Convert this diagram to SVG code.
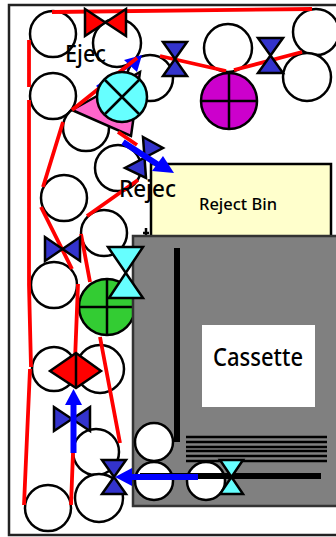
<svg xmlns="http://www.w3.org/2000/svg" width="336" height="537" viewBox="0 0 336 537">
<style>
.r{fill:#fff;stroke:#000;stroke-width:2.500}
.w{fill:none;stroke:#f00;stroke-width:3.800}
.b{fill:#33c;stroke:#000;stroke-width:2.500}
.c{fill:#6ff;stroke:#000;stroke-width:2.500}
.f{fill:#f00;stroke:#000;stroke-width:2.500}
.l{stroke:#000;stroke-width:2.500;fill:none}
.a{stroke:#00f;fill:none}
.h{fill:#00f}
.t{font-family:"Noto Sans",sans-serif;font-weight:500;fill:#000}
</style>
<rect width="336" height="537" fill="#fff"/>
<g id="frame"><rect x="9" y="5" width="340" height="530" fill="#fff" stroke="#222" stroke-width="2.500"/></g>
<g id="rollers">
<circle class="r" cx="53" cy="34" r="23"/><circle class="r" cx="117" cy="43" r="24"/><circle class="r" cx="53" cy="96" r="23"/>
<circle class="r" cx="150" cy="78" r="23"/><circle class="r" cx="86" cy="128" r="23"/><circle class="r" cx="118" cy="168" r="23"/>
<circle class="r" cx="228" cy="48" r="24"/><circle class="r" cx="316" cy="32" r="23"/><circle class="r" cx="307" cy="77" r="24"/>
<circle class="r" cx="64" cy="198" r="23"/><circle class="r" cx="104" cy="233" r="23"/><circle class="r" cx="54" cy="285" r="23"/>
<circle class="r" cx="54" cy="369" r="22"/><circle class="r" cx="100" cy="369" r="24"/>
<circle class="r" cx="96" cy="452" r="23"/><circle class="r" cx="99" cy="498" r="24"/><circle class="r" cx="48" cy="508" r="23"/>
</g>
<g id="green-roller"><circle cx="107" cy="307" r="28" fill="#3c3" stroke="#000" stroke-width="2.500"/><path class="l" d="M107 279V335M79 307H135"/></g>
<g id="reject-bin"><rect x="151" y="164" width="180" height="74" fill="#ffc" stroke="#000" stroke-width="2.500"/><text class="t" x="199" y="210" font-size="17" textLength="78" lengthAdjust="spacingAndGlyphs">Reject Bin</text></g>
<g id="cassette"><path class="l" d="M146 228V239M143 233H149"/><rect x="133" y="236" width="220" height="270" fill="#808080" stroke="#333" stroke-width="2.500"/>
<rect x="202" y="325" width="113" height="82" fill="#fff"/><text class="t" x="213" y="366" font-size="25" textLength="90" lengthAdjust="spacingAndGlyphs">Cassette</text>
<line x1="177" y1="248" x2="177" y2="442" stroke="#000" stroke-width="6"/>
<path class="l" stroke-width="2" d="M186 437H327M186 442H327M186 447H327M186 451H327M186 456H327M186 461H327"/>
<circle class="r" cx="154" cy="442" r="19"/><circle class="r" cx="154" cy="481" r="19"/><circle class="r" cx="206" cy="481" r="19"/>
<line x1="140" y1="476" x2="321" y2="476" stroke="#000" stroke-width="6"/>
</g>
<g id="triangle"><path d="M72 110L131 136L140 72Z" fill="#f6c" stroke="#000" stroke-width="2.500"/></g>
<g id="connectors">
<path class="w" d="M52 12L312 9M29 40V87M29 100V285L31 367M30 369L24 505M63 122L43 187M41 207L72 269M78 284L75 360M73 453L71 505M81 234L90 282M100 337L120 443M87 216L138 180M118 132L137 145M160 56L226 71M234 70L302 52"/>
<path class="a" stroke-width="3" d="M97 87L132 64"/><path class="h" d="M142 55L124 60L137 72Z"/>
<path class="w" d="M72 110L137 58"/>
</g>
<g id="cyan-roller"><circle cx="122" cy="97" r="25" fill="#6ff" stroke="#000" stroke-width="2.500"/><path class="l" d="M105 80L139 114M139 80L105 114"/></g>
<g id="purple-roller"><circle cx="229" cy="101" r="28" fill="#c0c" stroke="#000" stroke-width="2.500"/><path class="l" d="M229 73V129M201 101H257"/></g>
<g id="valves">
<path class="b" d="M163 42H187L163 76H187Z"/>
<path class="b" d="M258 38H283L258 73H283Z"/>
<path class="f" d="M85 9V36L126 9V36Z"/>
<path class="b" d="M143 137L163 148L125 168L146 178Z"/>
<path class="b" d="M45 237V261L80 237V261Z"/>
<path class="c" d="M108 247H143L109 298H143Z"/>
<path class="b" d="M54 407V431L90 407V431Z"/>
<path class="b" d="M102 460H126L102 494H126Z"/>
<path class="c" d="M220 460H243L220 494H243Z"/>
<path class="f" d="M50 371L76 353L101 371L76 388Z"/><line class="l" x1="76" y1="353" x2="76" y2="388"/>
</g>
<g id="arrows">
<path class="a" stroke-width="6" d="M123 142L160 166"/><path class="h" d="M174 173L152 171L163 156Z"/>
<path class="a" stroke-width="6" d="M73.500 453V403"/><path class="h" d="M65 405H82L73.500 389Z"/>
<path class="a" stroke-width="6" d="M198 477H130"/><path class="h" d="M132 468V486L115 477Z"/>
</g>
<g id="labels">
<text class="t" x="65" y="62" font-size="24" textLength="41" lengthAdjust="spacingAndGlyphs">Ejec</text>
<text class="t" x="119" y="197" font-size="24" textLength="57" lengthAdjust="spacingAndGlyphs">Rejec</text>
</g>
</svg>
